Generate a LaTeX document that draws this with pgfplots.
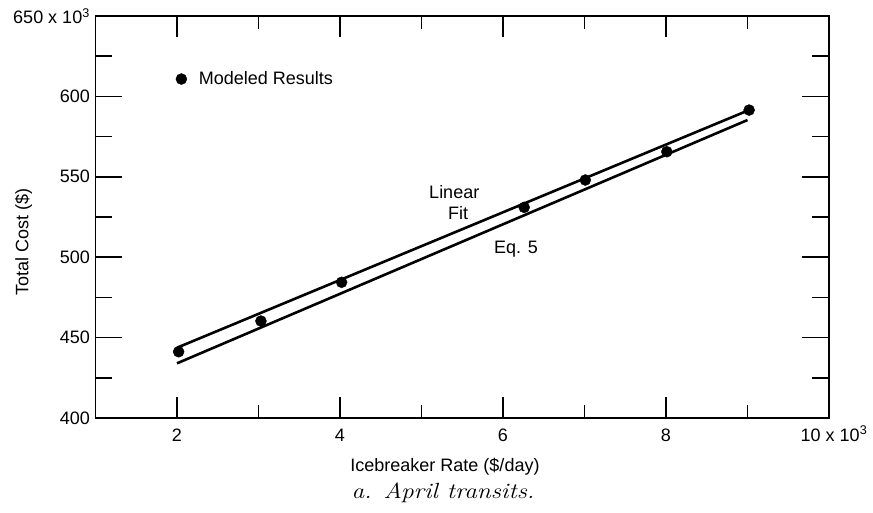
\documentclass[border=0pt]{standalone}
\usepackage{pgfplots}
\pgfplotsset{compat=1.18}
\usepackage{fontspec}
\setsansfont{Liberation Sans}
\renewcommand{\familydefault}{\sfdefault}
\newfontfamily\capfont[FakeStretch=1.15]{Latin Modern Roman}
\begin{document}
\begin{tikzpicture}[font=\fontsize{18}{21}\selectfont]
\pgfplotsset{base/.style={
  at={(0pt,0pt)}, anchor=south west, scale only axis,
  width=733.5pt, height=402pt,
  xmin=1, xmax=10, ymin=400, ymax=650,
  axis line style={line width=1.6pt, black},
  every tick/.style={line width=1.6pt, black},
  tick align=inside,
  clip=false,
}}
\path (-95.5pt,-94pt) rectangle (777.5pt,418pt);
% y ticks
\begin{axis}[base,
  xtick=\empty,
  ytick={400,450,500,550,600,650},
  minor ytick={425,475,525,575,625},
  major tick length=27pt, minor tick length=17pt,
  yticklabels={400,450,500,550,600,{650 x 10\textsuperscript{3}}},
  yticklabel style={anchor=east, inner sep=5.5pt},
]
\end{axis}
% x ticks, data
\begin{axis}[base,
  ytick=\empty,
  xtick={2,4,6,8,10},
  minor xtick={3,5,7,9},
  major tick length=21pt, minor tick length=13pt,
  xticklabels={2,4,6,8,{\hspace*{10pt}10 x 10\textsuperscript{3}}},
  xticklabel style={anchor=base, yshift=-23pt},
  legend style={at={(axis cs:1.984,610.8)}, anchor=west, draw=none, fill=none,
    inner sep=0pt, column sep=10pt, font=\fontsize{18}{21}\selectfont},
  legend image code/.code={\draw[#1] plot coordinates {(0pt,0pt)};},
]
\addplot[black, line width=2.6pt, forget plot] coordinates {(2,443.7) (9,591.1)};
\addplot[black, line width=2.6pt, forget plot] coordinates {(2,434.0) (9,585.3)};
\addplot[only marks, mark=*, mark size=5.5pt, black] coordinates {
  (2.02,441.2) (3.03,460.3) (4.02,484.4) (6.26,531.0) (7.01,548.0) (8.01,565.6) (9.02,591.5)};
\addlegendentry{Modeled Results}
\node[anchor=base] at (axis cs:5.402,536.6) {Linear};
\node[anchor=base] at (axis cs:5.448,523.6) {Fit};
\node[anchor=base] at (axis cs:6.160,502.6) {Eq. 5};
\end{axis}
\node[anchor=base, inner sep=0pt] at (349.5pt,-53.3pt) {Icebreaker Rate (\$/day)};
\node[anchor=base, inner sep=0pt, font=\capfont\itshape\fontsize{22}{26}\selectfont] at (347.5pt,-80.7pt) {a. April transits.};
\node[anchor=base, inner sep=0pt, rotate=90] at (-67.2pt,176pt) {Total Cost (\$)};
\end{tikzpicture}
\end{document}
